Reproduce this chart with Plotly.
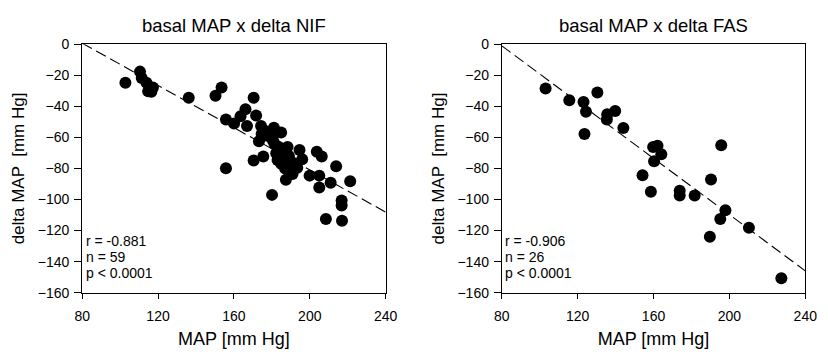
import plotly.graph_objects as go
import numpy as np

# ---- data ----
nif_map = [102.8, 110.5, 111.4, 113.9, 117.3, 114.8, 116.5, 136.2, 150.3, 153.5,
           155.8, 155.8, 160.1, 163.5, 166.1, 166.9, 170.4, 171.7, 174.3, 174.6,
           173.2, 170.4, 175.5, 181.1, 184.9, 180.6, 181.4, 182.3, 185.7, 184.9,
           188.3, 190.0, 193.4, 194.6, 190.9, 187.4, 180.1, 203.7, 206.3, 199.9,
           205.0, 205.0, 211.0, 213.9, 221.3, 216.8, 216.8, 208.5, 217.0, 176.0,
           178.0, 186.5, 189.0, 192.0, 183.0, 187.0, 196.0, 183.5, 179.5]
nif_delta = [-24.8, -17.6, -21.7, -24.8, -27.9, -30.3, -30.5, -34.5, -33.2, -27.9,
             -48.5, -79.9, -51.0, -46.4, -41.9, -52.6, -34.5, -45.8, -52.6, -57.8,
             -62.5, -74.9, -72.3, -53.7, -56.8, -61.9, -64.0, -70.2, -73.3, -77.0,
             -66.1, -75.4, -79.5, -68.1, -83.6, -87.3, -97.0, -69.2, -72.3, -84.6,
             -84.6, -92.3, -89.2, -78.5, -88.2, -100.6, -103.8, -112.5, -113.6, -55.5,
             -59.0, -70.5, -72.0, -77.0, -74.5, -80.0, -74.0, -66.0, -57.0]

fas_map = [103.1, 115.6, 123.1, 124.4, 123.6, 130.4, 135.6, 135.4, 139.8, 144.1,
           154.2, 158.6, 159.8, 162.1, 164.1, 160.3, 173.8, 173.8, 181.7, 189.7,
           190.3, 195.7, 195.2, 197.9, 210.3, 227.4]
fas_delta = [-28.5, -36.1, -37.2, -43.4, -57.8, -31.0, -45.0, -48.5, -42.9, -53.9,
             -84.4, -95.0, -66.1, -65.4, -70.8, -75.4, -94.3, -97.4, -97.4, -123.9,
             -87.1, -65.0, -112.5, -106.9, -118.1, -150.7]

# regression lines (intercept, slope)
nif_fit = (55.1, -0.68)
fas_fit = (71.5, -0.906)

nif_stats = ["r = -0.881", "n = 59", "p < 0.0001"]
fas_stats = ["r = -0.906", "n = 26", "p < 0.0001"]
titles = ["basal MAP x delta NIF", "basal MAP x delta FAS"]

xticks = [80, 120, 160, 200, 240]
yticks = [0, -20, -40, -60, -80, -100, -120, -140, -160]

FONT = "Liberation Sans, Arial, sans-serif"
W, H = 828, 358

fig = go.Figure()

panels = [
    (nif_map, nif_delta, nif_fit, nif_stats, "x", "y", [76 / W, 387 / W]),
    (fas_map, fas_delta, fas_fit, fas_stats, "x2", "y2", [506 / W, 817 / W]),
]
ydom = [60 / H, 320 / H]

for i, (xs, ys, fit, stats, xa, ya, xdom) in enumerate(panels):
    lx = np.array([80, 240])
    ly = fit[0] + fit[1] * lx
    fig.add_trace(go.Scatter(x=lx, y=ly, mode="lines", xaxis=xa, yaxis=ya,
                             line=dict(color="black", width=1.1, dash="11px,5px"),
                             hoverinfo="skip", showlegend=False))
    fig.add_trace(go.Scatter(x=xs, y=ys, mode="markers", xaxis=xa, yaxis=ya,
                             marker=dict(color="black", size=12, line=dict(width=0)),
                             showlegend=False))
    sfx = "" if i == 0 else "2"
    axis_common = dict(showline=True, linecolor="black", linewidth=1, mirror=True,
                       ticks="outside", tickcolor="black", showgrid=False,
                       zeroline=False, tickfont=dict(family=FONT, size=14, color="black"))
    fig.update_layout(**{
        "xaxis" + sfx: dict(domain=xdom, range=[80, 240], tickvals=xticks,
                            anchor="y" + sfx, ticklen=5, ticklabelstandoff=6,
                            title=dict(text="MAP [mm Hg]", standoff=8,
                                       font=dict(family=FONT, size=18, color="black")),
                            **axis_common),
        "yaxis" + sfx: dict(domain=ydom, range=[-160, 0], tickvals=yticks,
                            anchor="x" + sfx, ticklen=7, ticklabelstandoff=2,
                            title=dict(text="delta MAP  [mm Hg]", standoff=8,
                                       font=dict(family=FONT, size=17, color="black")),
                            **axis_common),
    })
    for j, (txt, yv) in enumerate(zip(stats, [-126.5, -137.0, -147.5])):
        fig.add_annotation(x=80.8, y=yv, xref=xa, yref=ya, text=txt, showarrow=False,
                           xanchor="left", yanchor="middle",
                           font=dict(family=FONT, size=14, color="black"))
    fig.add_annotation(x=(xdom[0] + xdom[1]) / 2, y=1 - 18 / H, xref="paper", yref="paper",
                       text=titles[i], showarrow=False, xanchor="center", yanchor="middle",
                       font=dict(family=FONT, size=18.5, color="black"))

fig.update_layout(width=W, height=H, margin=dict(l=0, r=0, t=0, b=0),
                  paper_bgcolor="white", plot_bgcolor="white")

fig.write_html("out.html")
